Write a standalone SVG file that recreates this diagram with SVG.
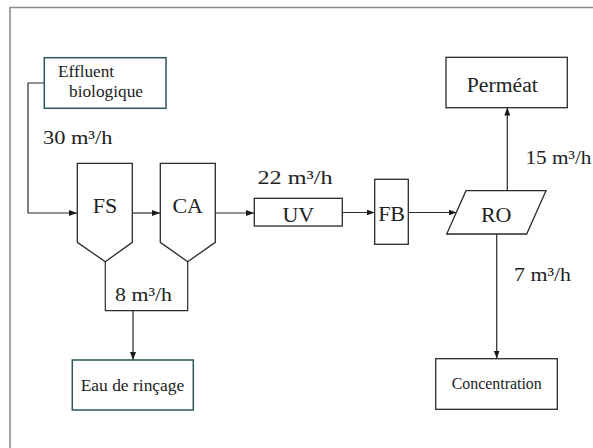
<svg xmlns="http://www.w3.org/2000/svg" width="593" height="448" viewBox="0 0 593 448">
<style>
  text { font-family: "Liberation Serif", "Times New Roman", serif; fill: #222; }
  .box { fill: #fff; stroke: #2a2a2a; stroke-width: 1.3; }
  .teal { fill: #fff; stroke: #2d5658; stroke-width: 1.5; }
  .line { fill: none; stroke: #2a2a2a; stroke-width: 1.2; }
  .lbl { font-size: 19px; }
  .big { font-size: 22px; text-anchor: middle; }
</style>
<defs>
  <marker id="arr" viewBox="0 0 8 6" refX="8" refY="3" markerWidth="8" markerHeight="6" markerUnits="userSpaceOnUse" orient="auto">
    <path d="M0,0 L8,3 L0,6 Z" fill="#1a1a1a"/>
  </marker>
</defs>
<rect width="593" height="448" fill="#fff"/>
<g id="frame">
  <path d="M10,600 L10,7.5 L700,7.5" fill="none" stroke="#8a8a8a" stroke-width="1.6"/>
</g>
<g id="connectors">
  <path class="line" d="M44,83 L28,83 L28,213 L77,213" marker-end="url(#arr)"/>
  <path class="line" d="M132.5,213 L160,213" marker-end="url(#arr)"/>
  <path class="line" d="M215.5,213 L254,213" marker-end="url(#arr)"/>
  <path class="line" d="M342,212.5 L374.5,212.5" marker-end="url(#arr)"/>
  <path class="line" d="M408.5,212.5 L456.5,212.5" marker-end="url(#arr)"/>
  <path class="line" d="M105.3,261.7 L105.3,310.7 L187.7,310.7 L187.7,261.7"/>
  <path class="line" d="M133,310.7 L133,360" marker-end="url(#arr)"/>
  <path class="line" d="M507.3,191 L507.3,107.5" marker-end="url(#arr)"/>
  <path class="line" d="M496.7,234 L496.7,358.5" marker-end="url(#arr)"/>
</g>
<g id="labels">
  <text class="lbl" x="43" y="143.5" textLength="69.5" lengthAdjust="spacingAndGlyphs">30 m³/h</text>
  <text class="lbl" x="257.5" y="184" font-size="20" textLength="75" lengthAdjust="spacingAndGlyphs">22 m³/h</text>
  <text class="lbl" x="525.5" y="163.5" textLength="66" lengthAdjust="spacingAndGlyphs">15 m³/h</text>
  <text class="lbl" x="115" y="300.7" textLength="57" lengthAdjust="spacingAndGlyphs">8 m³/h</text>
  <text class="lbl" x="514" y="280.7" textLength="57" lengthAdjust="spacingAndGlyphs">7 m³/h</text>
</g>
<g id="effluent">
  <rect class="teal" x="44.3" y="57.7" width="121.7" height="50.6"/>
  <text x="58" y="76.7" font-size="16.5" textLength="56" lengthAdjust="spacingAndGlyphs">Effluent</text>
  <text x="69" y="97" font-size="16.5" textLength="74" lengthAdjust="spacingAndGlyphs">biologique</text>
</g>
<g id="FS">
  <path class="box" d="M77.3,163.3 L132.3,163.3 L132.3,242.3 L105.3,261.7 L77.3,242.3 Z"/>
  <text class="big" x="105" y="213.3">FS</text>
</g>
<g id="CA">
  <path class="box" d="M160.3,163.3 L215.3,163.3 L215.3,242.3 L187.7,261.7 L160.3,242.3 Z"/>
  <text class="big" x="187.7" y="213.3">CA</text>
</g>
<g id="UV">
  <rect class="box" x="254.3" y="198.3" width="88" height="27.7"/>
  <text class="big" x="298.3" y="222.3" font-size="23">UV</text>
</g>
<g id="FB">
  <rect class="box" x="374.7" y="179.3" width="33.6" height="65" stroke="#555"/>
  <text class="big" x="391.6" y="220.5">FB</text>
</g>
<g id="RO">
  <polygon class="box" points="466,190.7 546,190.7 526.7,234 446.7,234"/>
  <text class="big" x="496.2" y="221.7">RO</text>
</g>
<g id="permeat">
  <rect class="box" x="446" y="57.3" width="121.3" height="50.4"/>
  <text x="502.3" y="92.3" font-size="20.5" text-anchor="middle" textLength="71" lengthAdjust="spacingAndGlyphs">Perméat</text>
</g>
<g id="rincage">
  <rect class="teal" x="72.3" y="360" width="121" height="50" stroke="#1f3a3c"/>
  <text x="132.5" y="390.7" font-size="17.5" text-anchor="middle" textLength="103.7" lengthAdjust="spacingAndGlyphs">Eau de rinçage</text>
</g>
<g id="concentration">
  <rect class="box" x="435.7" y="358.7" width="121.6" height="50.6"/>
  <text x="496.7" y="389" font-size="16" text-anchor="middle" textLength="90" lengthAdjust="spacingAndGlyphs">Concentration</text>
</g>
</svg>
